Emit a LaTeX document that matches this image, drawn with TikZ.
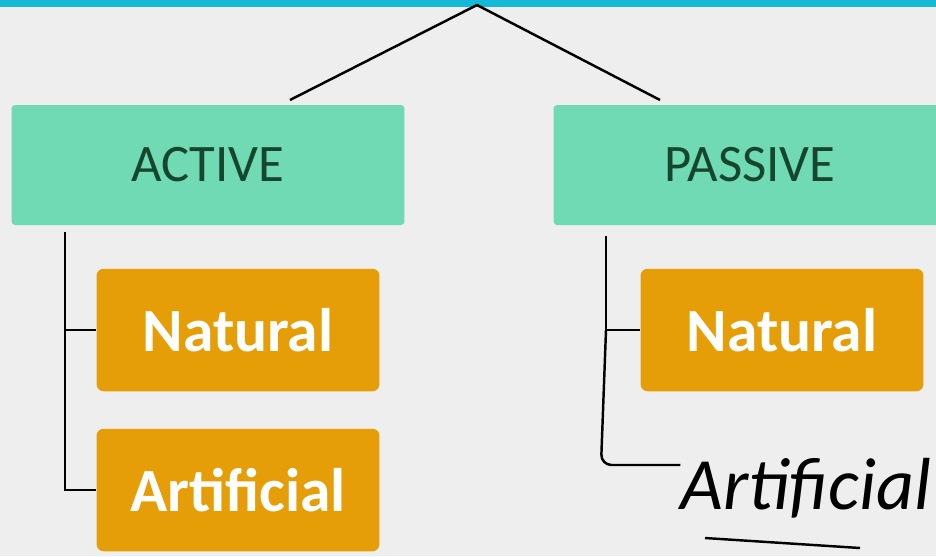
\documentclass[tikz,border=0pt]{standalone}
\usepackage{fontspec}
\setmainfont{Carlito}
\usetikzlibrary{positioning,arrows}

\begin{document}
\begin{tikzpicture}[
x=0.02cm, y=-0.02cm,
groupbox/.style={
  draw=none,
  fill=mintgreen,
  rounded corners=2pt,
  minimum width=7.86cm,
  minimum height=2.4cm,
  font=\fontsize{30}{30}\selectfont,
  text=darkgreen
  },
typebox/.style={
  draw=none,
  fill=amber,
  rounded corners=4pt,
  minimum width=5.66cm,
  minimum height=2.45cm,
  font=\fontsize{35}{35}\selectfont\bfseries,
  text=white
  },
hand/.style={
  font=\fontsize{42}{42}\itshape,
  text=black,
  inner sep=0pt
  },
link/.style={
  draw=black,
  line width=1.4pt
  },
>=latex
]
\definecolor{mintgreen}{RGB}{112,218,180}
\definecolor{darkgreen}{RGB}{22,70,45}
\definecolor{amber}{RGB}{230,158,8}
\definecolor{screencyan}{RGB}{20,185,215}
\definecolor{screengray}{RGB}{238,238,238}

% background and screen edge
\fill[screengray] (0,0) rectangle (936,556);
\fill[screencyan] (0,0) rectangle (936,7);
\useasboundingbox (0,0) rectangle (936,556);

% the two groups
\node[groupbox] (active) at (208,165) {ACTIVE};
\node[groupbox] (passive) at (750,165) {PASSIVE};

% the types
\node[typebox] (natA) at (238,330) {Natural};
\node[typebox] (artA) at (238,490) {Artificial};
\node[typebox] (natP) at (782,330) {Natural};

% handwritten note
\node[hand] (artP) at (806,488) {Artificial};

% tree lines
\coordinate (apex) at (477,5);
\draw[link] (290,100) -- (apex) -- (660,100);

\coordinate (trunkA) at (65,232);
\draw[link] (trunkA) |- (natA.west);
\draw[link] (trunkA) |- (artA.west);

\coordinate (trunkP) at (606,236);
\draw[link] (trunkP) |- (natP.west);
\draw[link,rounded corners=6pt] (natP.west -| trunkP) -- (601,465) -- (artP.west |- 0,465);
\draw[link] (705,538) -- (860,548);
\end{tikzpicture}
\end{document}
